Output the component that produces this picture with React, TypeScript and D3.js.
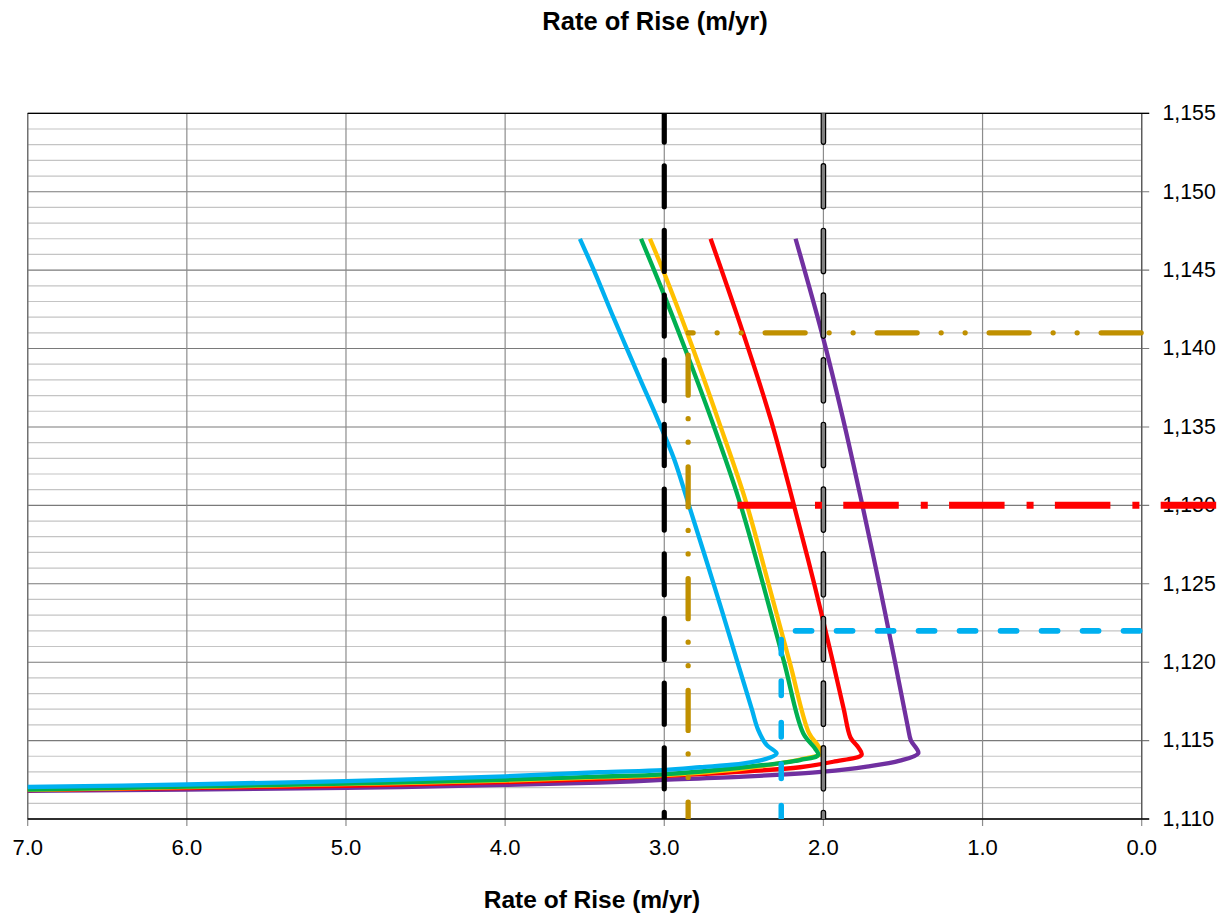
import React from "react";
import * as d3 from "d3";

// ---------- data ----------
const xTickValues = [7, 6, 5, 4, 3, 2, 1, 0];
const yMajorTicks = [1110, 1115, 1120, 1125, 1130, 1135, 1140, 1145, 1150, 1155];
const yMinorTicks = d3.range(1110, 1156, 1);

const cyanRate = [3.53, 3.43, 3.32, 3.235, 3.15, 3.04, 2.94, 2.845, 2.69, 2.54, 2.45, 2.41, 2.357, 2.294, 2.34, 2.5, 2.776, 3.007, 3.41, 4.0, 5.0, 6.0, 7.0];
const cyanElev = [1147, 1144.7, 1142, 1140, 1138, 1135.45, 1133, 1130, 1125, 1120, 1117, 1115.68, 1114.72, 1114.19, 1113.9, 1113.55, 1113.3, 1113.12, 1112.98, 1112.72, 1112.42, 1112.2, 1112.04];

const greenRate = [3.146, 3.02, 2.87, 2.703, 2.53, 2.38, 2.247, 2.127, 2.053, 2.033, 2.147, 2.5, 3.007, 3.41, 4.0, 5.0, 6.0, 7.0];
const greenElev = [1147, 1143.9, 1140, 1135.45, 1130.34, 1125, 1120, 1115.47, 1114.51, 1114.08, 1113.76, 1113.3, 1112.85, 1112.7, 1112.5, 1112.26, 1112.06, 1111.88];

const yellowRate = [3.09, 3.0, 2.82, 2.661, 2.49, 2.345, 2.212, 2.09, 2.035, 2.011, 2.12, 2.5, 3.0, 3.41, 4.0, 5.0, 6.0, 7.0];
const yellowElev = [1147, 1144.8, 1140, 1135.45, 1130.34, 1125, 1120, 1115.47, 1114.7, 1114.19, 1113.85, 1113.22, 1112.8, 1112.65, 1112.45, 1112.22, 1112.03, 1111.86];

const redRate = [2.709, 2.505, 2.33, 2.185, 2.058, 1.94, 1.872, 1.83, 1.78, 1.76, 1.938, 2.147, 2.5, 3.007, 3.41, 4.0, 5.0, 6.0, 7.0];
const redElev = [1147, 1141, 1135.45, 1130, 1125, 1120, 1117, 1115.2, 1114.55, 1114.1, 1113.65, 1113.3, 1113.02, 1112.74, 1112.55, 1112.35, 1112.12, 1111.97, 1111.84];

const purpleRate = [2.175, 2.01, 1.875, 1.755, 1.65, 1.55, 1.47, 1.45, 1.415, 1.404, 1.519, 1.728, 2.0, 2.5, 3.007, 3.41, 4.0, 5.0, 6.0, 7.0];
const purpleElev = [1147, 1141, 1135.45, 1130, 1125, 1120, 1115.89, 1115, 1114.5, 1114.19, 1113.72, 1113.34, 1113.02, 1112.7, 1112.49, 1112.32, 1112.17, 1111.98, 1111.88, 1111.79];

// reference lines
const blackRate = 3.0;
const grayRate = 2.0;
const goldElev = 1141;
const goldRate = 2.85;
const redRefElev = 1130;
const redRefStart = 2.54;
const redRefEnd = -0.5;
const cyanRefElev = 1122;
const cyanRefVertRate = 2.265;
const cyanRefHorzStart = 2.175;

const titleText = "Rate of Rise (m/yr)";

// ---------- layout ----------
const W = 1224;
const H = 922;
const left = 27.7;
const right = 1141.7;
const top = 113.3;
const bottom = 819;

const x = d3.scaleLinear().domain([7, 0]).range([left, right]);
const y = d3.scaleLinear().domain([1110, 1155]).range([bottom, top]);

const font = "'Liberation Sans', Arial, Helvetica, sans-serif";

type Series = { rate: number[]; elev: number[]; color: string };
const seriesList: Series[] = [
  { rate: purpleRate, elev: purpleElev, color: "#7030A0" },
  { rate: redRate, elev: redElev, color: "#FF0000" },
  { rate: yellowRate, elev: yellowElev, color: "#FFC000" },
  { rate: greenRate, elev: greenElev, color: "#00B050" },
  { rate: cyanRate, elev: cyanElev, color: "#00B0F0" },
];

const line = d3
  .line<[number, number]>()
  .x((d) => x(d[0]))
  .y((d) => y(d[1]))
  .curve(d3.curveCatmullRom.alpha(0.5));

export default function App() {
  const fmtX = d3.format(".1f");
  const fmtY = d3.format(",");
  return (
    <svg
      width={W}
      height={H}
      style={{ position: "absolute", left: 0, top: 0, background: "#fff" }}
      fontFamily={font}
    >
      <defs>
        <clipPath id="plotY">
          <rect x={0} y={top} width={W} height={bottom - top} />
        </clipPath>
      </defs>
      <rect x={0} y={0} width={W} height={H} fill="#fff" />

      {/* minor horizontal grid */}
      {yMinorTicks
        .filter((v) => v % 5 !== 0)
        .map((v) => (
          <line key={"mn" + v} x1={left} x2={right} y1={y(v)} y2={y(v)} stroke="#C4C4C4" strokeWidth={1.2} />
        ))}
      {/* major horizontal grid + ticks */}
      {yMajorTicks.map((v) => (
        <line key={"mj" + v} x1={left} x2={right + 7.5} y1={y(v)} y2={y(v)} stroke="#7A7A7A" strokeWidth={1.1} />
      ))}
      {/* vertical grid + ticks */}
      {xTickValues.map((v) => (
        <line key={"vx" + v} x1={x(v)} x2={x(v)} y1={top} y2={bottom + 7} stroke="#8C8C8C" strokeWidth={1.2} />
      ))}
      {/* borders */}
      <line x1={left} x2={left} y1={top} y2={bottom} stroke="#707070" strokeWidth={1.3} />
      <line x1={right} x2={right} y1={top} y2={bottom} stroke="#5A5A5A" strokeWidth={1.3} />
      <line x1={left} x2={right + 7.5} y1={top} y2={top} stroke="#000" strokeWidth={1.3} />
      <line x1={left} x2={right + 7.5} y1={bottom} y2={bottom} stroke="#000" strokeWidth={1.3} />

      {/* tick labels */}
      {xTickValues.map((v) => (
        <text key={"xl" + v} x={x(v)} y={855} textAnchor="middle" fontSize={22} fill="#000">
          {fmtX(v)}
        </text>
      ))}
      {yMajorTicks.map((v) => (
        <text key={"yl" + v} x={1162.5} y={y(v) + 6.8} textAnchor="start" fontSize={21.3} fill="#000">
          {fmtY(v)}
        </text>
      ))}

      {/* titles */}
      <text x={655} y={30} textAnchor="middle" fontSize={25.5} fontWeight="bold" fill="#000">
        {titleText}
      </text>
      <text x={592} y={908} textAnchor="middle" fontSize={24.5} fontWeight="bold" fill="#000">
        {titleText}
      </text>

      {/* curves */}
      {seriesList.map((s, i) => (
        <path
          key={"s" + i}
          d={line(s.rate.map((r, k) => [r, s.elev[k]] as [number, number])) || ""}
          fill="none"
          stroke={s.color}
          strokeWidth={4.3}
          strokeLinejoin="round"
        />
      ))}

      {/* black dashed vertical at 3.0 */}
      <g clipPath="url(#plotY)">
        <line
          x1={x(blackRate)}
          x2={x(blackRate)}
          y1={y(1155)}
          y2={y(1110)}
          stroke="#000"
          strokeWidth={5.2}
          strokeLinecap="round"
          strokeDasharray="41 23.67"
          strokeDashoffset={12.2}
        />
        {/* gray outlined vertical at 2.0 */}
        <line
          x1={x(grayRate)}
          x2={x(grayRate)}
          y1={y(1155)}
          y2={y(1110)}
          stroke="#000"
          strokeWidth={5.6}
          strokeLinecap="round"
          strokeDasharray="41 23.67"
          strokeDashoffset={12.2}
        />
        <line
          x1={x(grayRate)}
          x2={x(grayRate)}
          y1={y(1155)}
          y2={y(1110)}
          stroke="#808080"
          strokeWidth={3.2}
          strokeLinecap="round"
          strokeDasharray="41 23.67"
          strokeDashoffset={12.2}
        />
      </g>

      {/* gold dash-dot-dot lines */}
      <line
        x1={x(goldRate)}
        x2={x(0)}
        y1={y(goldElev)}
        y2={y(goldElev)}
        stroke="#C09000"
        strokeWidth={5.3}
        strokeLinecap="round"
        strokeDasharray="40 24 0 24 0 24"
        strokeDashoffset={35}
      />
      <line
        x1={x(goldRate)}
        x2={x(goldRate)}
        y1={y(goldElev)}
        y2={y(1110)}
        stroke="#C09000"
        strokeWidth={5.3}
        strokeLinecap="round"
        strokeDasharray="40 23.5 0 23.5 0 24.75"
        strokeDashoffset={89.4}
        clipPath="url(#plotY)"
      />

      {/* cyan dashed lines */}
      <line
        x1={x(cyanRefHorzStart)}
        x2={x(0)}
        y1={y(cyanRefElev)}
        y2={y(cyanRefElev)}
        stroke="#00B0F0"
        strokeWidth={5.8}
        strokeLinecap="round"
        strokeDasharray="16 25"
      />
      <line
        x1={x(cyanRefVertRate)}
        x2={x(cyanRefVertRate)}
        y1={y(cyanRefElev)}
        y2={y(1110)}
        stroke="#00B0F0"
        strokeWidth={5.5}
        strokeLinecap="round"
        strokeDasharray="14.5 27"
        strokeDashoffset={32.8}
        clipPath="url(#plotY)"
      />

      {/* red dash-dot line */}
      <line
        x1={x(redRefStart)}
        x2={x(redRefEnd)}
        y1={y(redRefElev)}
        y2={y(redRefElev)}
        stroke="#FF0000"
        strokeWidth={7}
        strokeLinecap="butt"
        strokeDasharray="55.5 22 7 21.3"
      />
    </svg>
  );
}
